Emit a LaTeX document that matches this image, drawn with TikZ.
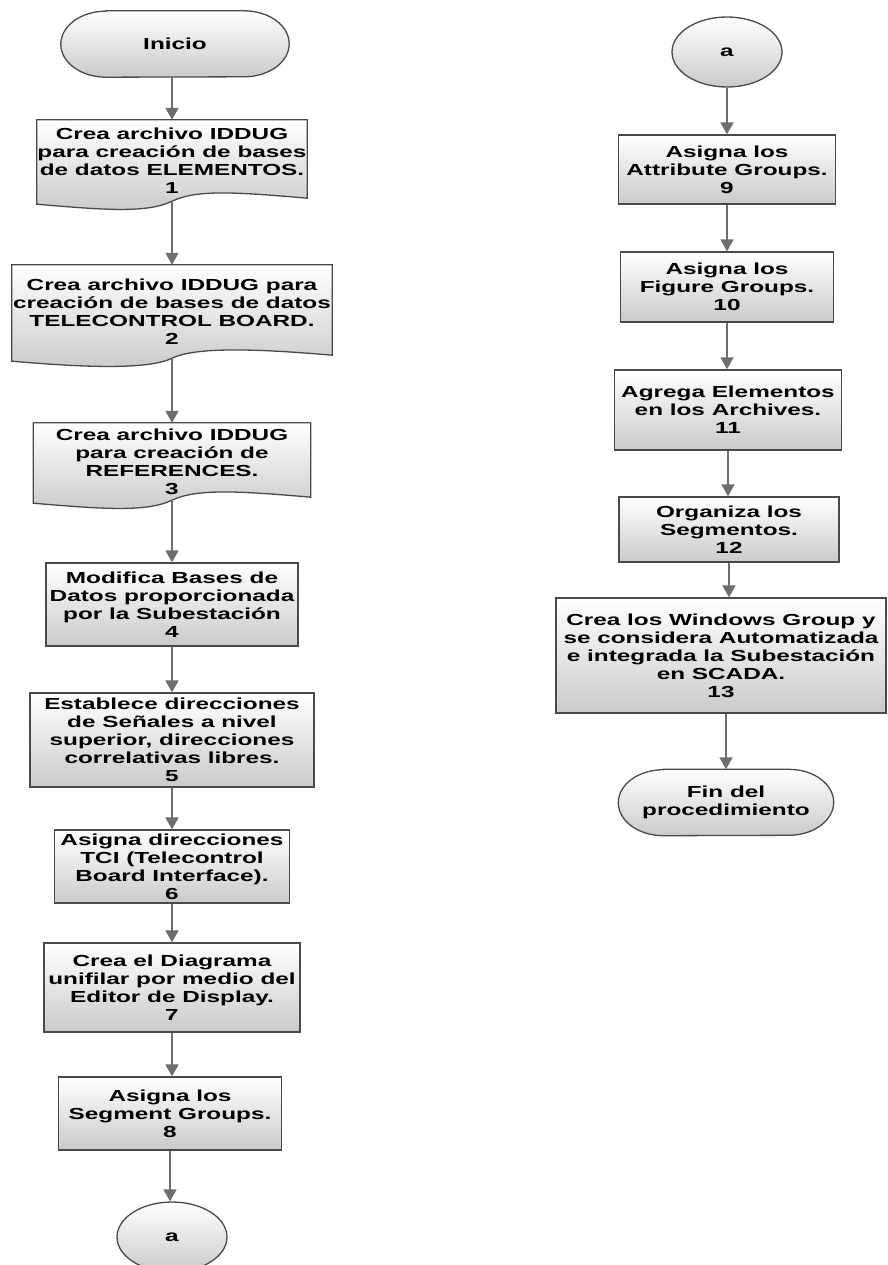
\documentclass[tikz,border=0pt]{standalone}
\usepackage{fontspec}
\newfontfamily\boxfont{Liberation Sans}[FakeStretch=1.52]
\usetikzlibrary{shapes.geometric,arrows.meta,backgrounds,calc}
\definecolor{edge}{HTML}{4A4A4A}
\definecolor{arrowgray}{HTML}{6E6E6E}
\definecolor{fillbot}{HTML}{CACACA}
\begin{document}
\begin{tikzpicture}[x=1pt,y=1pt,
 txt/.style={font=\boxfont\bfseries\fontsize{16}{18}\selectfont, align=center, inner sep=0pt, text=black},
 proc/.style={txt, rectangle, draw=edge, line width=1.3pt, top color=white, bottom color=fillbot},
 docbox/.style={txt, rectangle},
 termbox/.style={txt, rectangle},
 conn/.style={txt, ellipse, draw=edge, line width=1.3pt, top color=white, bottom color=fillbot, minimum width=110pt, minimum height=70pt},
 shapefill/.style={draw=edge, line width=1.3pt, top color=white, bottom color=fillbot},
 arr/.style={draw=arrowgray, line width=1.8pt, -{Triangle[width=13pt,length=12pt,fill=arrowgray]}}]
\useasboundingbox (0,0) rectangle (887,-1265);

% left column
\node[termbox, minimum width=228pt, minimum height=66pt] (start) at (175,-44) {Inicio};
\node[docbox, minimum width=270pt, minimum height=81pt] (b1) at (172,-160.5) {Crea archivo IDDUG\\para creación de bases\\de datos ELEMENTOS.\\1};
\node[docbox, minimum width=320pt, minimum height=93pt] (b2) at (172,-311.5) {Crea archivo IDDUG para\\creación de bases de datos\\TELECONTROL BOARD.\\2};
\node[docbox, minimum width=277pt, minimum height=77pt] (b3) at (172,-461.5) {Crea archivo IDDUG\\para creación de\\REFERENCES.\\3};
\node[proc, minimum width=252pt, minimum height=83pt] (b4) at (172,-604.5) {Modifica Bases de\\Datos proporcionada\\por la Subestación\\4};
\node[proc, minimum width=284pt, minimum height=94pt] (b5) at (172,-740) {Establece direcciones\\de Señales a nivel\\superior, direcciones\\correlativas libres.\\5};
\node[proc, minimum width=235pt, minimum height=73pt] (b6) at (172,-866.5) {Asigna direcciones\\TCI (Telecontrol\\Board Interface).\\6};
\node[proc, minimum width=256pt, minimum height=89pt] (b7) at (172,-987.5) {Crea el Diagrama\\unifilar por medio del\\Editor de Display.\\7};
\node[proc, minimum width=223pt, minimum height=73pt] (b8) at (170,-1113.5) {Asigna los\\Segment Groups.\\8};
\node[conn] (aL) at (172,-1237) {a};

% right column
\node[conn] (aR) at (727,-52) {a};
\node[proc, minimum width=217pt, minimum height=69pt] (b9) at (727,-169.5) {Asigna los\\Attribute Groups.\\9};
\node[proc, minimum width=213pt, minimum height=70pt] (b10) at (727,-287) {Asigna los\\Figure Groups.\\10};
\node[proc, minimum width=227pt, minimum height=80pt] (b11) at (728,-410) {Agrega Elementos\\en los Archives.\\11};
\node[proc, minimum width=220pt, minimum height=65pt] (b12) at (729,-529.5) {Organiza los\\Segmentos.\\12};
\node[proc, minimum width=330pt, minimum height=115pt] (b13) at (721,-655.5) {Crea los Windows Group y\\se considera Automatizada\\e integrada la Subestación\\en SCADA.\\13};
\node[termbox, minimum width=215pt, minimum height=66pt] (fin) at (726,-802.5) {Fin del\\procedimiento};

\begin{scope}[on background layer]
\foreach \n in {b1,b2,b3} {
 \path[shapefill] (\n.north west) -- (\n.north east) -- ($(\n.south east)+(0,3)$)
   .. controls ($(\n.south east)+(-70,9)$) and ($(\n.south)+(25,12)$) .. (\n.south)
   .. controls ($(\n.south)+(-25,-12)$) and ($(\n.south west)+(70,-9)$) .. ($(\n.south west)+(0,-3)$) -- cycle;
}
\foreach \n in {start,fin} {
 \path[shapefill] ($(\n.north west)+(45,0)$) -- ($(\n.north east)+(-45,0)$)
   arc[start angle=90,end angle=-90,x radius=45,y radius=33]
   -- ($(\n.south west)+(45,0)$)
   arc[start angle=270,end angle=90,x radius=45,y radius=33] -- cycle;
}
\end{scope}

% connectors
\draw[arr] (b1.north |- start.south) -- (b1.north);
\draw[arr] (b1.south) -- (b2.north);
\draw[arr] (b2.south) -- (b3.north);
\draw[arr] (b3.south) -- (b4.north);
\draw[arr] (b4.south) -- (b5.north);
\draw[arr] (b5.south) -- (b6.north);
\draw[arr] (b6.south) -- (b7.north);
\draw[arr] (b7.south) -- (b7.south |- b8.north);
\draw[arr] (b8.south) -- (b8.south |- aL.north);
\draw[arr] (aR.south) -- (b9.north);
\draw[arr] (b9.south) -- (b10.north);
\draw[arr] (b10.south) -- (b10.south |- b11.north);
\draw[arr] (b11.south) -- (b11.south |- b12.north);
\draw[arr] (b12.south) -- (b12.south |- b13.north);
\draw[arr] (fin.north |- b13.south) -- (fin.north);
\end{tikzpicture}
\end{document}
